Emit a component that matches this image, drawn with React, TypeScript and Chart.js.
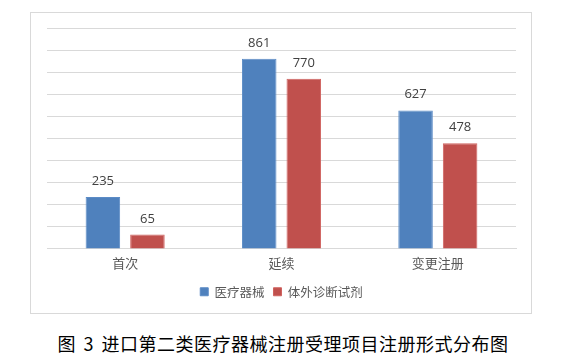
import React, { useEffect, useRef } from "react";
import { Chart, registerables } from "chart.js";

Chart.register(...registerables);

const categories = ["首次", "延续", "变更注册"];
const deviceValues = [235, 861, 627];
const ivdValues = [65, 770, 478];
const seriesNames = ["医疗器械", "体外诊断试剂"];
const caption = "图 3 进口第二类医疗器械注册受理项目注册形式分布图";

const valueLabels = {
  id: "valueLabels",
  afterDatasetsDraw(chart: any) {
    const ctx = chart.ctx;
    ctx.save();
    ctx.font = "13px 'Open Sans', 'DejaVu Sans', sans-serif";
    ctx.fillStyle = "#404040";
    ctx.textAlign = "center";
    ctx.textBaseline = "alphabetic";
    chart.data.datasets.forEach((ds: any, i: number) => {
      const meta = chart.getDatasetMeta(i);
      meta.data.forEach((el: any, j: number) => {
        ctx.fillText(String(ds.data[j]), el.x, el.y - 12);
      });
    });
    ctx.restore();
  },
};

export default function App() {
  const ref = useRef<HTMLCanvasElement>(null);
  useEffect(() => {
    if (!ref.current) return;
    const chart = new Chart(ref.current, {
      type: "bar",
      data: {
        labels: categories,
        datasets: [
          {
            label: seriesNames[0],
            data: deviceValues,
            backgroundColor: "#4F81BD",
            borderColor: "#5B8BC6",
            borderWidth: 1,
          },
          {
            label: seriesNames[1],
            data: ivdValues,
            backgroundColor: "#C0504D",
            borderColor: "#D06360",
            borderWidth: 1,
          },
        ],
      },
      options: {
        animation: false,
        responsive: false,
        maintainAspectRatio: false,
        layout: { padding: { left: 16, right: 15, top: 15, bottom: 5 } },
        datasets: {
          bar: { categoryPercentage: 0.57, barPercentage: 0.775 },
        },
        scales: {
          x: {
            grid: { display: false, drawTicks: false },
            border: { display: true, color: "#d9d9d9", width: 1 },
            ticks: {
              color: "#595959",
              padding: 6,
              font: { size: 13, family: "'Noto Sans CJK SC', sans-serif" },
            },
          },
          y: {
            min: 0,
            max: 1000,
            ticks: { stepSize: 100, display: false },
            grid: { color: "#d9d9d9", lineWidth: 1, drawTicks: false },
            border: { display: false },
          },
        },
        plugins: {
          legend: {
            position: "bottom",
            labels: {
              boxWidth: 8,
              boxHeight: 8,
              padding: 9,
              color: "#595959",
              font: { size: 12.5, family: "'Noto Sans CJK SC', sans-serif" },
            },
          },
          tooltip: { enabled: false },
        },
      },
      plugins: [valueLabels],
    });
    return () => chart.destroy();
  }, []);

  return (
    <div
      style={{
        position: "absolute",
        left: 0,
        top: 0,
        width: 562,
        height: 363,
        background: "#fff",
        overflow: "hidden",
      }}
    >
      <div
        style={{
          position: "absolute",
          left: 30,
          top: 12,
          width: 502,
          height: 302,
          border: "1px solid #d9d9d9",
          boxSizing: "border-box",
        }}
      >
        <canvas ref={ref} width={500} height={300} style={{ display: "block" }} />
      </div>
      <div
        style={{
          position: "absolute",
          left: 0,
          top: 331,
          width: 566,
          textAlign: "center",
          fontFamily: "'Noto Sans CJK SC', sans-serif",
          fontSize: 18,
          lineHeight: "24px",
          color: "#000",
          letterSpacing: 0.5,
          wordSpacing: 3,
          whiteSpace: "nowrap",
        }}
      >
        {caption}
      </div>
    </div>
  );
}
